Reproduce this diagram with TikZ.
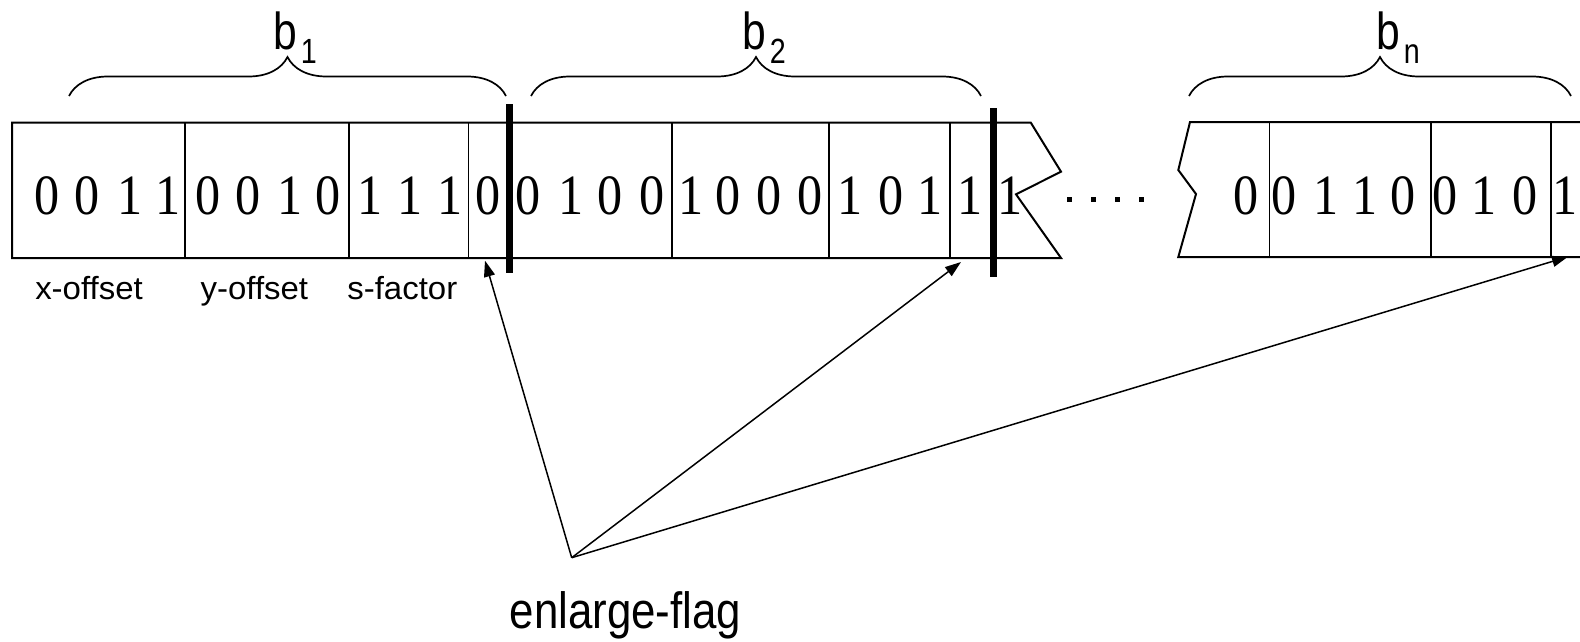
\documentclass[tikz,border=0pt]{standalone}
\usepackage{fontspec}
\setmainfont{Liberation Serif}
\newfontfamily\sansf{Liberation Sans}
\usetikzlibrary{arrows.meta,decorations.pathreplacing}
\tikzset{
  digit/.style={font=\fontsize{57}{57}\selectfont, xscale=0.88, anchor=base, inner sep=0pt},
  blabel/.style={font=\sansf, xscale=0.82, anchor=base west, inner sep=0pt},
  fieldlabel/.style={font=\sansf\fontsize{32}{32}\selectfont, xscale=1.03, anchor=base, inner sep=0pt},
  flaglabel/.style={font=\sansf\fontsize{51}{51}\selectfont, xscale=0.86, anchor=base, inner sep=0pt},
  boxline/.style={line width=2pt, line join=miter},
  divider/.style={line width=1.6pt},
  flagbar/.style={line width=7.3pt},
  bracestyle/.style={line width=1.7pt, decorate, decoration={brace, amplitude=39pt}},
  pointer/.style={line width=1.5pt, -{Triangle[length=16pt,width=11pt]}},
}
\begin{document}
\begin{tikzpicture}[x=1pt,y=1pt]
\useasboundingbox (0,0) rectangle (1580,-642);

% braces
\draw[bracestyle] (69,-96) -- (506,-96);
\draw[bracestyle] (531,-96) -- (981,-96);
\draw[bracestyle] (1189,-96) -- (1571,-96);
\node[blabel] (b1) at (273,-50) {\fontsize{52}{52}\selectfont b\hspace{5pt}\raisebox{-14pt}{\fontsize{35}{35}\selectfont 1}};
\node[blabel] (b2) at (742,-50) {\fontsize{52}{52}\selectfont b\hspace{5pt}\raisebox{-14pt}{\fontsize{35}{35}\selectfont 2}};
\node[blabel] (bn) at (1376,-50) {\fontsize{52}{52}\selectfont b\hspace{5pt}\raisebox{-14pt}{\fontsize{35}{35}\selectfont n}};

% first strip
\draw[boxline] (1030.7,-122.5) -- (12,-122.5) -- (12,-258) -- (1061,-258) -- (1016,-194.3) -- (1061,-171.7) -- cycle;
\foreach \x in {185,349,468.3,672,829,950}
  \draw[divider] (\x,-122.5) -- (\x,-258);

% second strip
\draw[boxline] (1580,-122) -- (1190,-122) -- (1178.3,-170) -- (1196,-194) -- (1178.3,-257) -- (1580,-257);
\foreach \x in {1269.3,1431,1551}
  \draw[divider] (\x,-122) -- (\x,-257);

% digits
\foreach \x/\d [count=\i] in {47.5/0,87/0,130/1,168/1,208/0,248.5/0,290/1,328/0,370/1,410/1,450/1,488.5/0,
  528.5/0,571/1,610/0,652.5/0,691/1,728/0,769/0,810/0,850/1,891/0,930/1,970/1,1010.5/1,
  1245.8/0,1284/0,1326/1,1365/1,1403/0,1445/0,1484/1,1525/0,1565/1}
  \node[digit] (d\i) at (\x,-214.5) {\d};

% thick flag bars
\draw[flagbar] (509.5,-104) -- (509.5,-272.5);
\draw[flagbar] (993.7,-108.3) -- (993.7,-276.7);

% dots
\foreach \x in {1069.5,1093.5,1117.5,1141.5}
  \fill (\x-2.4,-197) rectangle (\x+2.4,-202);

% field labels
\node[fieldlabel] (xoff) at (89,-299.5) {x-offset};
\node[fieldlabel] (yoff) at (254.4,-299.5) {y-offset};
\node[fieldlabel] (sfac) at (402.3,-299.5) {s-factor};

% enlarge flag
\node[flaglabel] (flag) at (625.5,-628.5) {enlarge-flag};
\coordinate (src) at (571.7,-557.7);
\coordinate (tip1) at (485,-260.7);
\coordinate (tip2) at (961,-262);
\coordinate (tip3) at (1568,-256.7);
\draw[pointer] (src) -- (tip1);
\draw[pointer] (src) -- (tip2);
\draw[pointer] (src) -- (tip3);
\end{tikzpicture}
\end{document}
